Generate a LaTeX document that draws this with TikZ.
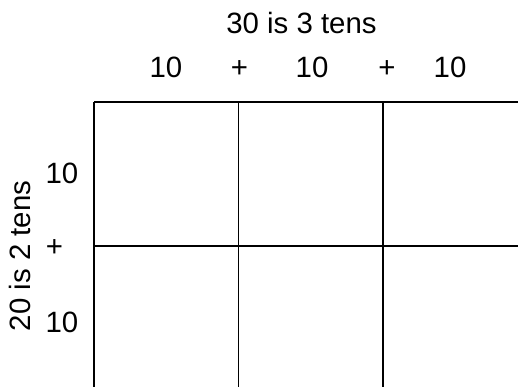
\documentclass[tikz,border=0pt]{standalone}
\usepackage{fontspec}
\setmainfont{Liberation Sans}
\begin{document}
\begin{tikzpicture}[x=1bp,y=-1bp,
  lbl/.style={font=\fontsize{29.5}{35}\selectfont, inner sep=0pt, anchor=base},
  gridline/.style={line width=1.9bp, black}]
\useasboundingbox (0,0) rectangle (518,387);
% grid
\draw[gridline] (94,102) -- (518,102);
\draw[gridline] (94,246) -- (518,246);
\draw[gridline] (94,102) -- (94,387);
\draw[gridline] (238.5,102) -- (238.5,387);
\draw[gridline] (383,102) -- (383,387);
% top labels
\node[lbl] (title) at (301.5,33.3) {30 is 3 tens};
\node[lbl] (t1) at (166,77.5) {10};
\node[lbl] (p1) at (239.5,77.5) {+};
\node[lbl] (t2) at (312,77.5) {10};
\node[lbl] (p2) at (387,77.5) {+};
\node[lbl] (t3) at (450,77.5) {10};
% left labels
\node[lbl, rotate=90] (side) at (30,256) {20 is 2 tens};
\node[lbl] (s1) at (62,183.5) {10};
\node[lbl] (sp) at (54.5,256) {+};
\node[lbl] (s2) at (62,332) {10};
\end{tikzpicture}
\end{document}
